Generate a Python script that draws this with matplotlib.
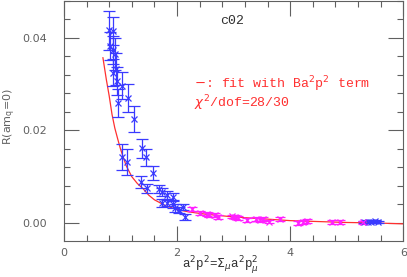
import numpy as np
import matplotlib.pyplot as plt

# blue points (small momenta + a few at large p^2)
blue_x = [0.80, 0.87, 0.81, 0.87, 0.90, 0.92, 0.87, 0.94, 1.03, 0.96, 1.13, 1.24,
          1.03, 1.12, 1.38, 1.45, 1.58, 1.36, 1.47, 1.68, 1.73, 1.73, 1.82, 1.93,
          1.93, 1.97, 2.04, 2.11, 2.14, 1.83,
          5.30, 5.38, 5.42, 5.50, 5.56]
blue_y = [0.0416, 0.0415, 0.0383, 0.0374, 0.0365, 0.0333, 0.0325, 0.0307, 0.0297, 0.0260, 0.0270, 0.0225,
          0.0142, 0.0131, 0.0161, 0.0142, 0.0108, 0.0088, 0.0075, 0.0073, 0.0067, 0.0043, 0.0060, 0.0056,
          0.0041, 0.0032, 0.0028, 0.0034, 0.0013, 0.0043,
          0.0002, 0.0003, 0.0003, 0.0004, 0.0002]
blue_err = [0.0043, 0.0030, 0.0030, 0.0030, 0.0035, 0.0035, 0.0030, 0.0030, 0.0030, 0.0030, 0.0030, 0.0028,
            0.0028, 0.0028, 0.0020, 0.0018, 0.0015, 0.0013, 0.0010, 0.0008, 0.0008, 0.0008, 0.0008, 0.0008,
            0.0008, 0.0008, 0.0007, 0.0007, 0.0006, 0.0007,
            0.0003, 0.0003, 0.0003, 0.0003, 0.0003]

# magenta points
mag_x = [2.27, 2.40, 2.53, 2.57, 2.67, 2.72, 2.98, 3.03, 3.08, 3.24, 3.40, 3.46, 3.52, 3.62,
         3.82, 4.14, 4.22, 4.30, 4.74, 4.88, 5.29]
mag_y = [0.0030, 0.0022, 0.0020, 0.0017, 0.0017, 0.0013, 0.0014, 0.0013, 0.0010, 0.0006, 0.0008,
         0.0006, 0.0008, 0.0003, 0.0008, 0.0000, 0.0002, 0.0004, 0.0002, 0.0002, 0.0001]
mag_err = [0.0004] * len(mag_x)

# fit curve
fit_x = [0.69, 0.75, 0.80, 0.85, 0.90, 0.95, 1.00, 1.10, 1.20, 1.30, 1.40, 1.50, 1.60, 1.80,
         2.00, 2.20, 2.50, 3.00, 3.50, 4.00, 4.50, 5.00, 5.50, 6.00]
fit_y = [0.0357, 0.0310, 0.0275, 0.0235, 0.0205, 0.0182, 0.0160, 0.0124, 0.0100, 0.0085, 0.0074,
         0.0060, 0.0050, 0.0037, 0.0029, 0.0024, 0.0019, 0.0013, 0.0009, 0.0005, 0.0003, 0.0001,
         0.0000, -0.0002]

blue = '#3a3aff'
mag = '#ff20ff'
red = '#ff3030'
grey = '#606060'

fig = plt.figure(figsize=(4.07, 2.77), dpi=100)
ax = fig.add_axes([0.157, 0.130, 0.834, 0.867])

ax.plot(fit_x, fit_y, color=red, linewidth=0.9, zorder=2)
ax.errorbar(blue_x, blue_y, yerr=blue_err, fmt='x', color=blue, ecolor=blue,
            markersize=5, elinewidth=0.9, capsize=4, capthick=0.9, mew=0.9, zorder=3)
ax.errorbar(mag_x, mag_y, yerr=mag_err, fmt='x', color=mag, ecolor=mag,
            markersize=5, elinewidth=0.9, capsize=3.5, capthick=0.9, mew=0.9, zorder=3)

ax.set_xlim(0, 6)
ax.set_ylim(-0.0039, 0.048)
ax.set_xticks([0, 2, 4, 6])
ax.set_xticks(np.arange(0, 6.01, 0.4), minor=True)
ax.set_yticks([0.0, 0.02, 0.04])
ax.set_yticks(np.arange(0, 0.0481, 0.004), minor=True)
ax.set_yticklabels(['0.00', '0.02', '0.04'])

ax.tick_params(which='both', direction='in', top=True, right=True, colors=grey,
               labelcolor=grey, labelsize=8)
ax.tick_params(which='major', length=11, width=0.8)
ax.tick_params(which='minor', length=4.5, width=0.8)
ax.tick_params(axis='y', pad=12)
ax.tick_params(axis='x', pad=5)
for s in ax.spines.values():
    s.set_color(grey)
    s.set_linewidth(0.8)

mono = 'Liberation Mono'
ax.text(2.76, 0.0437, 'c02', family=mono, fontsize=9.5, color='#303030', va='center')
ax.text(2.3, 0.0299, r'$-$: fit with Ba$^2$p$^2$ term', family=mono, fontsize=9.5,
        color=red, va='center')
ax.text(2.3, 0.0259, r'$\chi^2$/dof=28/30', family=mono, fontsize=9.5, color=red, va='center')

ax.set_xlabel(r'a$^2$p$^2$=$\Sigma_\mu$a$^2$p$^2_\mu$', family=mono, fontsize=9,
              color='#303030')
ax.xaxis.set_label_coords(0.46, -0.10)
ax.xaxis.label.set_va('center')
ax.set_ylabel(r'R(am$_{\rm q}$=0)', fontsize=8, color=grey)
ax.yaxis.label.set_va('center')
ax.yaxis.set_label_coords(-0.160, 0.52)

fig.savefig('out.png', dpi=100)
